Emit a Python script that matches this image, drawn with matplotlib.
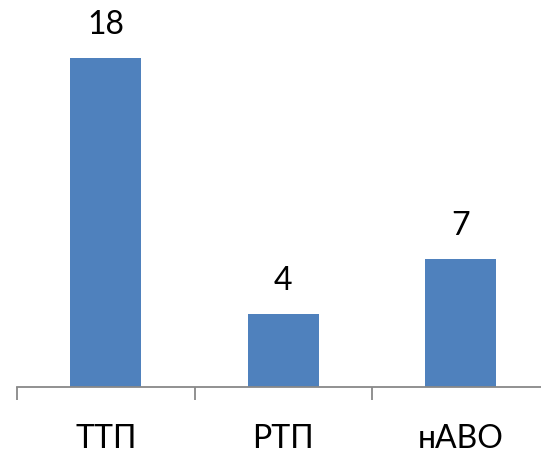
import matplotlib.pyplot as plt

categories = ['ТТП', 'РТП', 'нАВО']
values = [18, 4, 7]

plt.rcParams['font.family'] = ['Lato', 'DejaVu Sans']

fig = plt.figure(figsize=(5.41, 4.49), dpi=100)
ax = fig.add_axes([17 / 541, 62 / 449, 532.5 / 541, 387 / 449])

x = range(len(categories))
bars = ax.bar(x, values, width=0.4, color='#4F81BD')

for rect, v in zip(bars, values):
    ax.annotate(str(v), (rect.get_x() + rect.get_width() / 2, v),
                xytext=(0, 13), textcoords='offset points',
                ha='center', va='bottom', fontsize=23)

ax.set_xlim(-0.5, 2.5)
ax.set_ylim(0, 21.15)
ax.set_xticks([-0.5, 0.5, 1.5, 2.5])
ax.set_xticklabels([])
ax.set_xticks(list(x), categories, minor=True)
ax.tick_params(axis='x', which='major', direction='out', length=9.5,
               width=1.3, color='#888888')
ax.tick_params(axis='x', which='minor', length=0, pad=27, labelsize=23)
ax.set_yticks([])

for side in ['top', 'right', 'left']:
    ax.spines[side].set_visible(False)
ax.spines['bottom'].set_color('#888888')
ax.spines['bottom'].set_linewidth(1.3)

fig.savefig('out.png', dpi=100)
